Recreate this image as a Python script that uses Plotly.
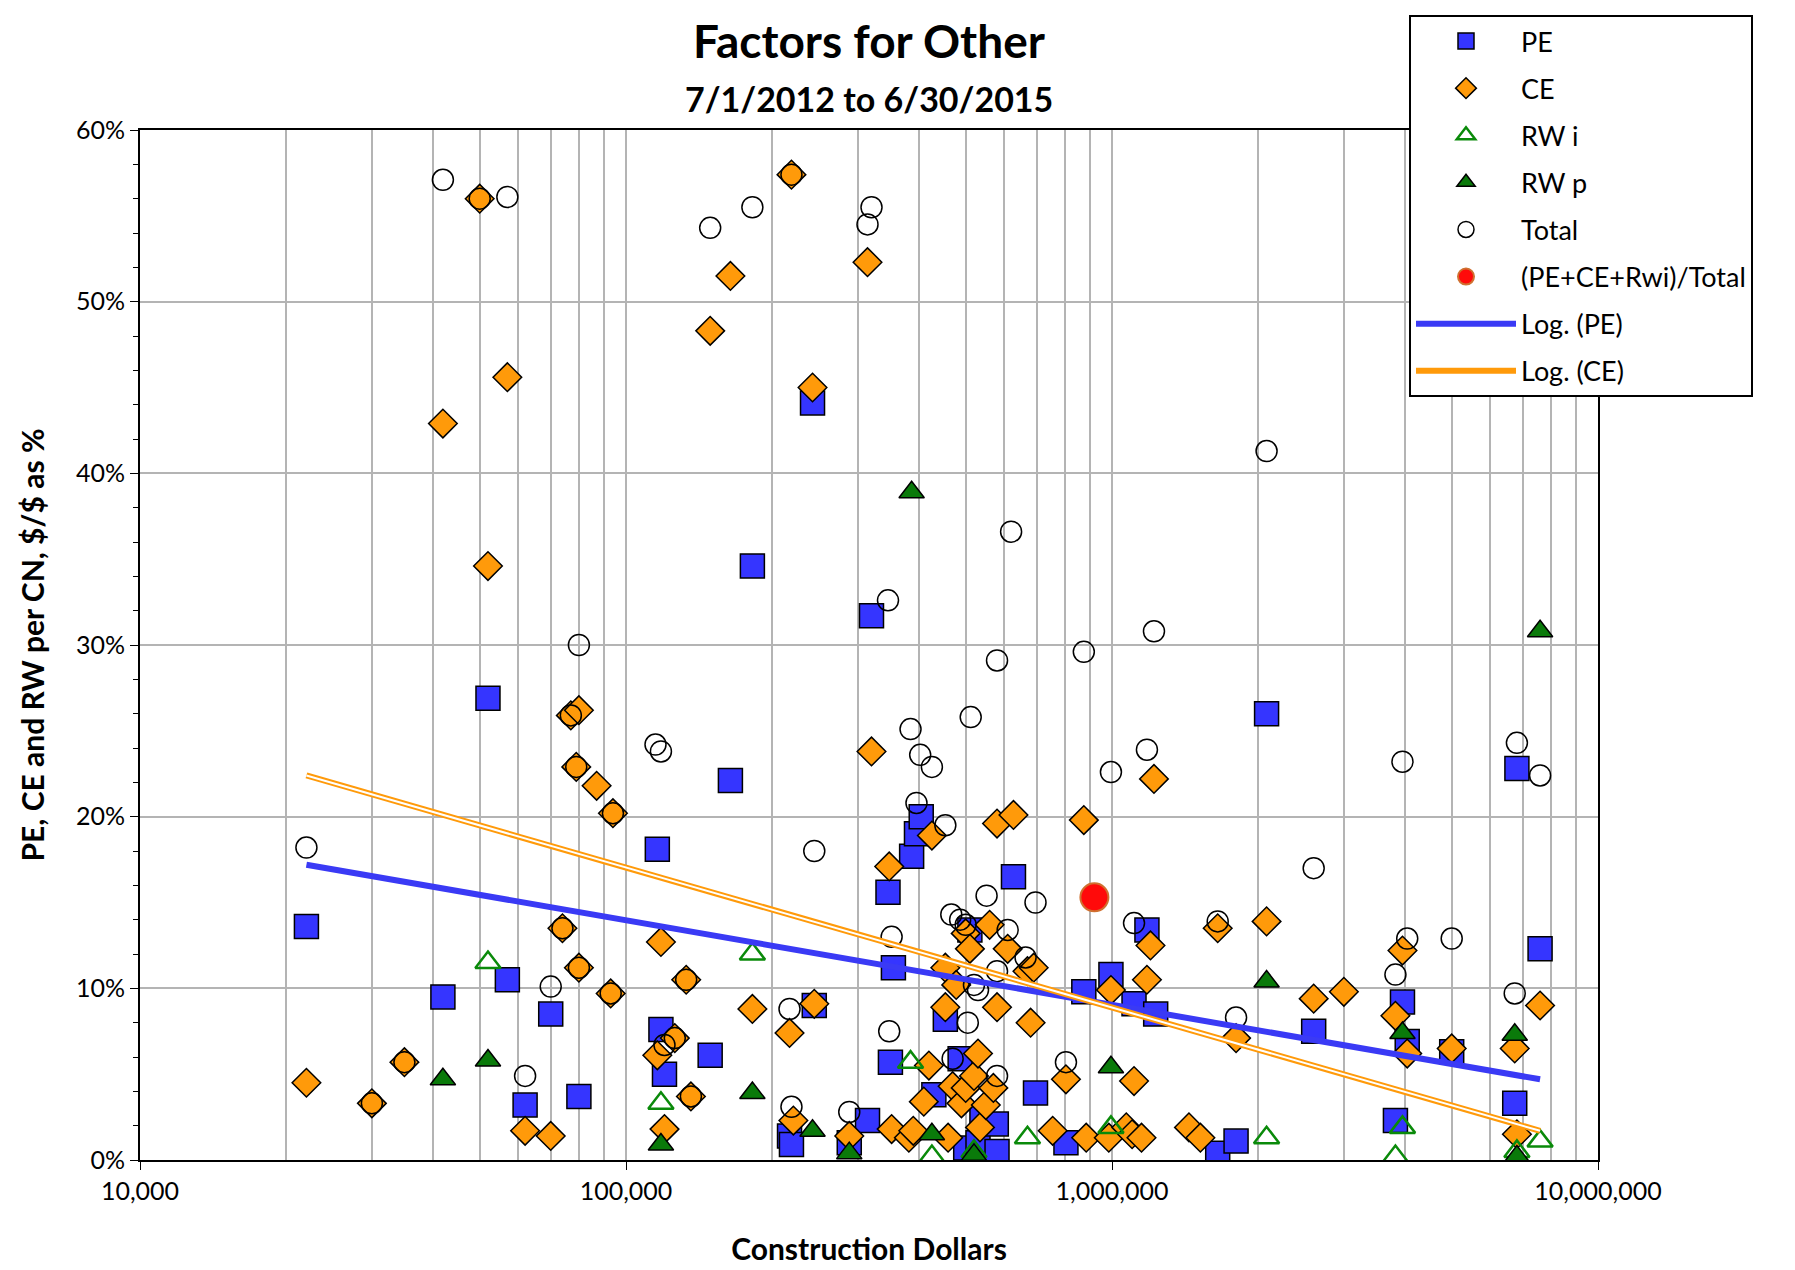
import plotly.graph_objects as go

pe_x = [22000,42000,52000,57000,62000,70000,80000,116000,118000,120000,149000,164000,182000,217000,219000,242000,244000,288000,314000,320000,346000,350000,355000,387000,396000,405000,430000,454000,487000,500000,510000,530000,540000,578000,580000,627000,696000,804000,875000,995000,1110000,1180000,1230000,1650000,1800000,2080000,2600000,3830000,3960000,4050000,5000000,6740000,6810000,7600000]
pe_y = [13.6,9.5,26.9,10.5,3.2,8.5,3.7,18.1,7.6,5.0,6.1,22.1,34.6,1.4,0.9,44.1,9.0,1.0,2.3,31.7,15.6,5.7,11.2,17.7,19.0,20.0,3.8,8.2,5.9,0.7,13.4,1.0,2.5,2.1,0.5,16.5,3.9,1.0,9.8,10.8,9.1,13.4,8.5,0.4,1.1,26.0,7.5,2.3,9.2,6.9,6.3,3.3,22.8,12.3]

ce_x = [22000,30000,35000,42000,50000,52000,57000,62000,70000,74000,77000,80000,79000,80000,87000,94000,93000,118000,116000,120000,126000,133000,136000,149000,164000,182000,219000,217000,221000,242000,244000,288000,314000,320000,348000,352000,382000,390000,410000,420000,426000,454000,454000,460000,470000,478000,490000,500000,500000,510000,520000,530000,535000,550000,560000,570000,580000,580000,610000,627000,670000,690000,680000,755000,804000,875000,885000,995000,985000,1070000,1100000,1110000,1150000,1180000,1200000,1220000,1440000,1520000,1650000,1800000,2080000,2600000,3000000,3830000,3960000,4050000,5000000,6740000,6810000,7600000]
ce_y = [4.5,3.3,5.7,42.9,56.0,34.6,45.6,1.7,1.4,13.5,25.9,26.2,22.9,11.2,21.8,20.2,9.7,12.7,6.1,1.8,7.1,10.5,3.7,48.3,51.5,8.8,57.4,7.4,2.3,45.0,9.1,1.4,52.3,23.8,17.1,1.8,1.3,1.7,3.4,5.5,18.9,11.2,8.9,1.3,4.3,10.2,3.3,13.2,4.2,12.3,4.9,6.2,1.9,3.2,13.7,4.2,19.6,8.9,12.3,20.1,11.0,11.2,8.0,1.7,4.7,19.8,1.3,9.9,1.3,1.9,1.5,4.6,1.3,10.5,12.5,22.2,1.9,1.3,13.5,7.1,13.9,9.4,9.8,8.4,12.2,6.2,6.5,6.5,1.5,9.0]

rwi_x = [52000,118000,182000,385000,426000,520000,670000,995000,2080000,3830000,3960000,6810000,7600000]
rwi_y = [11.5,3.3,12.0,5.7,0.2,0.5,1.3,1.9,1.3,0.2,1.9,0.5,1.1]

rwp_x = [42000,52000,118000,182000,242000,288000,387000,426000,520000,995000,2080000,3960000,6740000,6810000,7600000]
rwp_y = [4.7,5.8,0.9,3.9,1.7,0.4,38.9,1.5,0.3,5.4,10.4,7.4,7.3,0.2,30.8]

tot_x = [22000,30000,35000,42000,50000,57000,62000,70000,77000,80000,79000,80000,74000,94000,93000,115000,118000,120000,126000,133000,136000,149000,182000,217000,219000,219000,244000,288000,314000,320000,346000,352000,348000,385000,403000,396000,426000,454000,467000,487000,470000,512000,500000,505000,520000,530000,552000,580000,580000,580000,620000,610000,664000,696000,804000,875000,995000,1110000,1180000,1220000,1650000,1800000,2080000,2600000,3830000,3960000,4050000,5000000,6740000,6810000,7600000]
tot_y = [18.2,3.3,5.7,57.1,56.0,56.1,4.9,10.1,25.9,30.0,22.9,11.2,13.5,20.2,9.7,24.2,23.8,6.7,7.1,10.5,3.7,54.3,55.5,8.8,57.4,3.1,18.0,2.8,54.5,55.5,32.6,13.0,7.5,25.1,23.6,20.8,22.9,19.5,14.3,14.0,5.9,25.8,13.7,8.0,10.2,9.9,15.4,29.1,11.0,4.9,36.6,13.4,11.8,15.0,5.7,29.6,22.6,13.8,23.9,30.8,13.9,8.3,41.3,17.0,10.8,23.2,12.9,12.9,9.7,24.3,22.4]

ratio_x = [920000]
ratio_y = [15.3]

trend_x = [22000, 7600000]
pe_trend = [17.2, 4.7]
ce_trend = [22.4, 1.7]

def pct(v):
    return [a / 100 for a in v]

FONT = "Lato"
L, R, T, B = 132, 205, 122, 118
W, H = 1795, 1270
PW, PH = W - L - R, H - T - B

fig = go.Figure()
def add(tr, g):
    tr.legendgroup = g
    fig.add_trace(tr)

add(go.Scatter(x=pe_x, y=pct(pe_y), mode="markers", name="PE",
    marker=dict(symbol="square", size=24, color="#3535ff", line=dict(color="black", width=1.5))), "a")
add(go.Scatter(x=ce_x, y=pct(ce_y), mode="markers", name="CE",
    marker=dict(symbol="diamond", size=22, color="#ff9a0a", line=dict(color="black", width=1.5))), "b")
add(go.Scatter(x=rwi_x, y=pct(rwi_y), mode="markers", name="RW i",
    marker=dict(symbol="triangle-up-open", size=22, color="#0a8a0a", line=dict(color="#0a8a0a", width=2.5))), "c")
add(go.Scatter(x=rwp_x, y=pct(rwp_y), mode="markers", name="RW p",
    marker=dict(symbol="triangle-up", size=22, color="#0a7a0a", line=dict(color="black", width=1.5))), "d")
add(go.Scatter(x=tot_x, y=pct(tot_y), mode="markers", name="Total",
    marker=dict(symbol="circle", size=21, color="rgba(255,255,255,0)", line=dict(color="black", width=1.5))), "e")
add(go.Scatter(x=ratio_x, y=pct(ratio_y), mode="markers", name="(PE+CE+Rwi)/Total",
    marker=dict(symbol="circle", size=28, color="#ff0a0a", line=dict(color="#d07030", width=2))), "f")
add(go.Scatter(x=trend_x, y=pct(pe_trend), mode="lines", name="Log. (PE)",
    line=dict(color="#3a3af5", width=6)), "g")
add(go.Scatter(x=trend_x, y=pct(ce_trend), mode="lines", name="Log. (CE)     ",
    line=dict(color="#ff9a0a", width=6)), "h")
add(go.Scatter(x=trend_x, y=pct(ce_trend), mode="lines", showlegend=False, hoverinfo="skip",
    line=dict(color="white", width=2)), "h")

minor_x = [m * 10 ** e for e in range(4, 7) for m in range(2, 10)]
fig.update_layout(
    width=W, height=H, plot_bgcolor="white", paper_bgcolor="white",
    margin=dict(l=L, r=R, t=T, b=B, autoexpand=False),
    font=dict(family=FONT, size=24, color="black"),
    showlegend=True,
    legend=dict(x=(1401 - L) / PW, xref="paper", y=(H - B - 7) / PH, yref="paper",
                xanchor="left", yanchor="top",
                bordercolor="black", borderwidth=2, bgcolor="white", font=dict(size=27),
                itemwidth=100, tracegroupgap=9),
    annotations=[
        dict(text="<b>Factors for Other</b>", x=0.5, xref="paper", y=(H - B - 32) / PH, yref="paper",
             yanchor="middle", showarrow=False, font=dict(size=46)),
        dict(text="<b>7/1/2012 to 6/30/2015</b>", x=0.5, xref="paper", y=(H - B - 91) / PH, yref="paper",
             yanchor="middle", showarrow=False, font=dict(size=34)),
    ],
    xaxis=dict(type="log", range=[4, 7], tickvals=[1e4, 1e5, 1e6, 1e7],
               ticktext=["10,000", "100,000", "1,000,000", "10,000,000"],
               showgrid=True, gridcolor="#b4b4b4", gridwidth=1.5,
               minor=dict(tickvals=minor_x, showgrid=True, gridcolor="#b4b4b4", gridwidth=1.5),
               showline=True, linecolor="black", linewidth=2, mirror=True,
               ticks="outside", ticklen=8, tickcolor="black", zeroline=False,
               title=dict(text="<b>Construction Dollars</b>", font=dict(size=30), standoff=35),
               tickfont=dict(size=25)),
    yaxis=dict(range=[0, 0.6], dtick=0.1, tickformat=".0%",
               showgrid=True, gridcolor="#b4b4b4", gridwidth=1.5,
               minor=dict(dtick=0.02, ticks="outside", ticklen=5, tickcolor="black"),
               showline=True, linecolor="black", linewidth=2, mirror=True,
               ticks="outside", ticklen=8, tickcolor="black", zeroline=False,
               title=dict(text="<b>PE, CE and RW per CN, $/$ as %</b>", font=dict(size=30), standoff=22),
               tickfont=dict(size=25)),
)
fig.write_html("out.html")
